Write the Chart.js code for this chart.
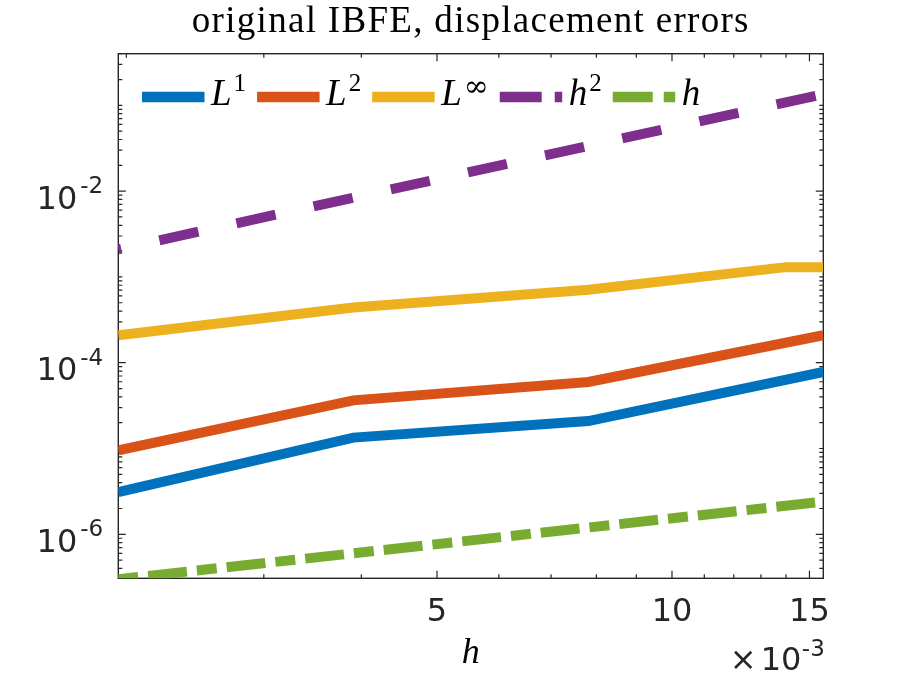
<!DOCTYPE html>
<html><head><meta charset="utf-8">
<script src="https://cdn.jsdelivr.net/npm/chart.js@4.4.0/dist/chart.umd.min.js"></script>
<style>html,body{margin:0;padding:0;background:#fff}#wrap{width:910px;height:680px;position:relative}</style>
</head><body><div id="wrap"><canvas id="c"></canvas></div>
<script>
// ---- data ----
const hValues     = [0.001953125, 0.00390625, 0.0078125, 0.015625];
const hValuesLinf = [0.001953125, 0.00390625, 0.0078125, 0.014, 0.015625];
const errL1   = [3.1e-6, 1.34e-5, 2.09e-5, 7.8e-5];
const errL2   = [9.5e-6, 3.64e-5, 5.96e-5, 2.09e-4];
const errLinf = [2.09e-4, 4.4e-4, 7.1e-4, 1.3e-3, 1.3e-3];
const refH2   = [2.1e-3, 8.4e-3, 3.37e-2, 0.135];
const refH1   = [3.0e-7, 6.0e-7, 1.2e-6, 2.4e-6];
const legendBase = ['L', 'L', 'L', 'h', 'h'];
const legendSup  = ['1', '2', '\u221E', '2', ''];
const xMin = 1/512, xMax = 1/64, yMin = 3.07e-7, yMax = 0.4;
const xMajorTicks = [0.005, 0.01, 0.015];
const xTickLabels = ['5', '10', '15'];
const xMinorTicks = [0.002, 0.003, 0.004, 0.006, 0.007, 0.008, 0.009, 0.011, 0.012, 0.013, 0.014];
const yMajorTicks = [1e-6, 1e-4, 1e-2];
const yTickExponents = ['-6', '-4', '-2'];
const xExponent = '-3';
const titleText = 'original IBFE, displacement errors';
const xAxisLabel = 'h';

const colors = ['#0072BD', '#D95319', '#EDB120', '#7E2F8E', '#77AC30'];
const AX = '#262626';

function pts(xs, ys) { return xs.map((x, i) => ({x: x, y: ys[i]})); }

function yMinorTicks() {
  const out = [];
  for (let e = -7; e <= 0; e++) {
    for (let m = 1; m <= 9; m++) {
      const v = m * Math.pow(10, e);
      if (v >= yMin && v <= yMax && !yMajorTicks.some(t => Math.abs(t - v) / v < 1e-9)) out.push(v);
    }
  }
  return out;
}

const overlay = {
  id: 'overlay',
  beforeDraw(chart) { chart.ctx.letterSpacing = '1.3px'; },
  beforeDatasetsDraw(chart) {
    const {ctx, chartArea: a, scales: {x, y}} = chart;
    ctx.save();
    ctx.letterSpacing = '0px';
    ctx.strokeStyle = AX;
    ctx.lineWidth = 1.2;
    ctx.beginPath();
    const xt = (v, len) => {
      const p = x.getPixelForValue(v);
      ctx.moveTo(p, a.bottom); ctx.lineTo(p, a.bottom - len);
      ctx.moveTo(p, a.top); ctx.lineTo(p, a.top + len);
    };
    const yt = (v, len) => {
      const p = y.getPixelForValue(v);
      ctx.moveTo(a.left, p); ctx.lineTo(a.left + len, p);
      ctx.moveTo(a.right, p); ctx.lineTo(a.right - len, p);
    };
    xMajorTicks.forEach(v => xt(v, 7.5));
    xMinorTicks.forEach(v => xt(v, 4));
    yMajorTicks.forEach(v => yt(v, 7.5));
    yMinorTicks().forEach(v => yt(v, 4));
    ctx.stroke();
    ctx.lineWidth = 1.4;
    ctx.strokeRect(a.left, a.top, a.right - a.left, a.bottom - a.top);

    // tick labels
    ctx.fillStyle = AX;
    ctx.textBaseline = 'alphabetic';
    ctx.font = '32px "DejaVu Sans"';
    ctx.textAlign = 'center';
    xMajorTicks.forEach((v, i) => {
      ctx.fillText(xTickLabels[i], x.getPixelForValue(v), a.bottom + 42.7);
    });
    yMajorTicks.forEach((v, i) => {
      const p = y.getPixelForValue(v);
      ctx.font = '32px "DejaVu Sans"';
      ctx.textAlign = 'right';
      ctx.fillText('10', a.left - 41, p + 17.7);
      ctx.font = '23px "DejaVu Sans"';
      ctx.textAlign = 'left';
      ctx.fillText(yTickExponents[i], a.left - 38, p + 2);
    });
    // x10^-3
    ctx.font = '23px "DejaVu Sans"';
    const ew = ctx.measureText(xExponent).width;
    const expLeft = a.right + 1.5 - ew;
    ctx.textAlign = 'left';
    ctx.fillText(xExponent, expLeft, a.bottom + 77.7);
    ctx.font = '32px "DejaVu Sans"';
    ctx.textAlign = 'right';
    ctx.fillText('10', expLeft - 0.5, a.bottom + 91.7);
    const tw = ctx.measureText('10').width;
    ctx.fillText('\u00D7', expLeft - 0.5 - tw - 4, a.bottom + 91.7);
    // x axis label
    ctx.fillStyle = '#000';
    ctx.font = 'italic 36px "Liberation Serif"';
    ctx.textAlign = 'center';
    ctx.fillText(xAxisLabel, (a.left + a.right) / 2, a.bottom + 84.4);
    ctx.restore();
  },
  afterDraw(chart) {
    const ctx = chart.ctx;
    ctx.save();
    ctx.letterSpacing = '0px';
    const ds = chart.data.datasets;
    let cx = 142;
    const cy = 97;
    const legendDash = [[], [], [], [42, 13, 20, 13], [40, 11, 20, 11]];
    ds.forEach((d, i) => {
      ctx.beginPath();
      ctx.setLineDash(legendDash[i]);
      ctx.lineDashOffset = 0;
      ctx.lineCap = 'butt';
      ctx.strokeStyle = d.borderColor;
      ctx.lineWidth = 10.5;
      ctx.moveTo(cx, cy); ctx.lineTo(cx + 62.5, cy);
      ctx.stroke();
      ctx.setLineDash([]);
      cx += 62.5 + 6.5;
      ctx.fillStyle = '#000';
      ctx.textAlign = 'left';
      ctx.textBaseline = 'alphabetic';
      ctx.font = 'italic 37px "Liberation Serif"';
      ctx.fillText(legendBase[i], cx, 105);
      cx += ctx.measureText(legendBase[i]).width + 2;
      if (legendSup[i]) {
        const inf = legendSup[i] === '\u221E';
        ctx.font = inf ? '30px "DejaVu Serif"' : '25px "Liberation Serif"';
        ctx.fillText(legendSup[i], cx, inf ? 96 : 91);
        cx += ctx.measureText(legendSup[i]).width;
      }
      cx += 11;
    });
    ctx.restore();
  }
};

new Chart(document.getElementById('c'), {
  type: 'line',
  data: {
    datasets: [
      {label: 'L^1', data: pts(hValues, errL1), borderColor: colors[0]},
      {label: 'L^2', data: pts(hValues, errL2), borderColor: colors[1]},
      {label: 'L^inf', data: pts(hValuesLinf, errLinf), borderColor: colors[2]},
      {label: 'h^2', data: pts(hValues, refH2), borderColor: colors[3], borderDash: [40, 39], borderDashOffset: 37},
      {label: 'h', data: pts(hValues, refH1), borderColor: colors[4], borderDash: [20, 10, 39, 10], borderDashOffset: 0}
    ]
  },
  options: {
    responsive: true,
    maintainAspectRatio: false,
    animation: false,
    parsing: true,
    layout: {padding: {left: 118.3, right: 86.7, top: 0, bottom: 101.7}},
    elements: {
      point: {radius: 0, hoverRadius: 0},
      line: {borderWidth: 10, tension: 0, fill: false, borderCapStyle: 'butt', borderJoinStyle: 'miter'}
    },
    scales: {
      x: {type: 'logarithmic', min: xMin, max: xMax, display: false},
      y: {type: 'logarithmic', min: yMin, max: yMax, display: false}
    },
    plugins: {
      legend: {display: false},
      tooltip: {enabled: false},
      title: {
        display: true, text: titleText, color: '#000',
        font: {family: '"Liberation Serif"', size: 37, weight: 'normal', lineHeight: 1.2},
        padding: {top: 0, bottom: 9.3}
      }
    }
  },
  plugins: [overlay]
});
</script>
</body></html>
